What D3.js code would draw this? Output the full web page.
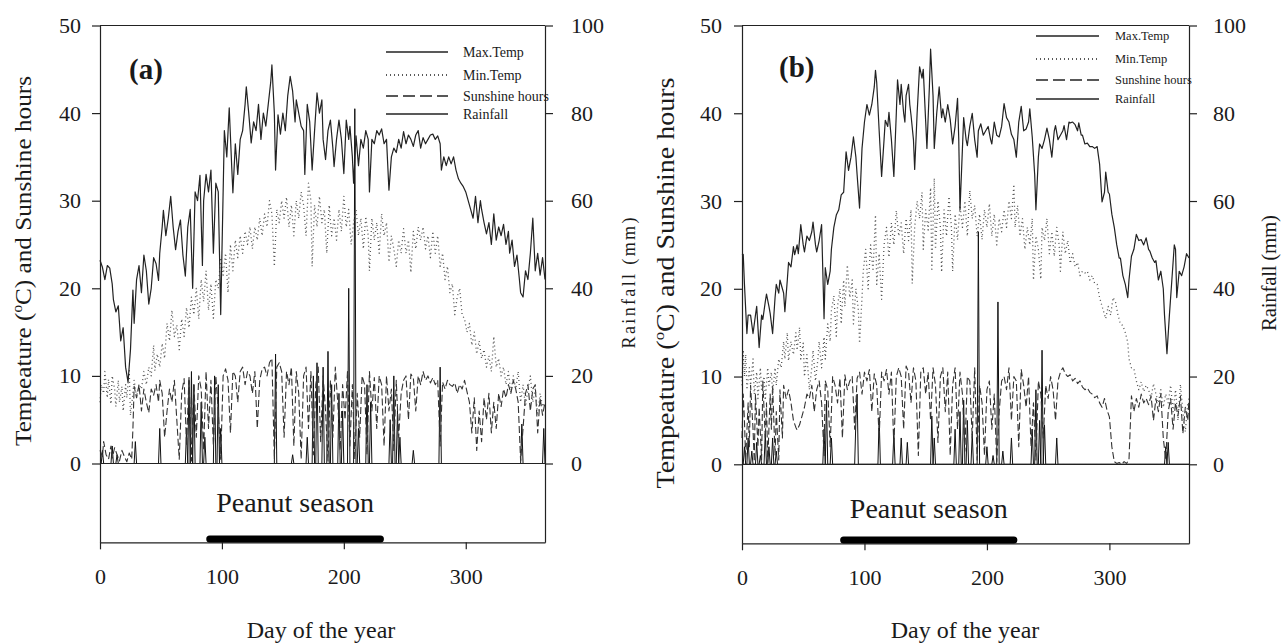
<!DOCTYPE html>
<html><head><meta charset="utf-8">
<script src="https://cdn.jsdelivr.net/npm/d3@7"></script>
<style>
body{margin:0;background:#fff;}
svg{display:block;}
text{font-family:"Liberation Serif","Times New Roman",serif;fill:#1a1a1a;}
</style>
</head><body>
<svg id="c" width="1284" height="643"></svg>
<script>
// ---------------- data ----------------
const dayTicks=[0,100,200,300];
const tempTicks=[0,10,20,30,40,50];
const rainTicks=[0,20,40,60,80,100];
const legendLabels=["Max.Temp","Min.Temp","Sunshine hours","Rainfall"];
const panelLabels=["(a)","(b)"];
const seasonA=[90,230];
const seasonB=[83,222];

const maxTempA=[[0,23.2],[2,22.4],[4,21],[6,22.6],[8,22.3],[10,20.5],[11,18.7],[13,17.3],[15,18],[17,14],[19,15.5],[21,11],[23,9.3],[25,13],[27,19.8],[28,16],[30,21],[32,22.6],[34,19.5],[36,23.8],[38,22],[40,18.2],[42,20],[44,23.5],[46,22.8],[48,20.9],[49,24],[51,27],[52,28.9],[54,26],[56,28],[58,30.5],[60,27],[62,24.4],[64,26.5],[66,27.8],[68,23.8],[70,21.4],[72,27],[74,29],[76,20],[78,31],[80,30],[82,32.9],[84,22.6],[85,30],[87,33],[89,31],[91,33.5],[93,24],[95,32],[97,31],[99,17],[100,24],[102,38],[104,35],[106,40.6],[108,34],[109,30.9],[111,36.5],[113,33],[115,37],[117,38],[119,41],[120,43],[122,40],[124,36.6],[126,39],[128,38],[130,41],[132,37],[134,40],[136,38.5],[138,41],[140,43.5],[141,45.5],[143,40],[144,33.5],[146,39.8],[148,37.6],[150,40],[152,38],[154,42],[156,44.2],[158,42.5],[160,39],[161,41.5],[163,40],[165,38.5],[167,38],[168,33],[170,41],[172,39],[174,33.5],[176,38],[178,42.3],[180,40],[182,41.5],[183,37],[185,34.7],[187,38],[189,39.2],[191,36],[192,33.9],[194,37],[196,39.2],[198,37],[200,33.1],[202,39.2],[204,37],[205,38.5],[207,35],[208,32],[210,37.4],[212,34],[214,37],[216,36],[218,38],[220,37],[221,31],[223,37],[225,36.5],[227,38],[229,37.5],[231,38.2],[233,36.5],[235,37],[237,31.2],[239,35],[241,36],[243,35.5],[245,37],[247,36],[249,37.9],[251,36.5],[253,37.5],[255,37],[257,36.2],[259,37.5],[261,38],[263,36],[265,37.2],[267,36.5],[269,37],[271,37.5],[273,37.6],[275,37],[277,37.4],[279,36.5],[280,33.5],[282,35],[284,34],[286,35],[288,34.2],[290,35],[292,33.5],[294,32.5],[296,32],[298,31.6],[300,31],[302,30],[304,29],[306,28],[308,30.5],[310,27.5],[312,30],[313,29],[315,27.5],[317,26.2],[319,27.5],[321,25],[323,28.5],[325,25.5],[327,27],[329,26],[331,27.3],[333,25],[335,26.5],[336,24],[338,25.5],[340,22.5],[342,23.8],[344,21],[345,19.5],[347,19],[349,22],[351,21],[353,24],[355,28],[357,22],[359,24],[361,21.5],[363,23.5],[365,21]];

const minTempA=[[0,7],[1,9],[3,8],[4,10.5],[6,7.5],[7,9.6],[9,6.8],[10,10],[12,8.5],[13,6.5],[15,9.5],[16,7],[18,8.8],[19,6],[21,9],[22,7.5],[24,10.6],[25,5.5],[27,8],[28,9.5],[30,7.6],[32,9],[34,8.5],[36,10.5],[38,9],[40,11],[42,10],[44,13.5],[45,10.6],[47,12.5],[49,11],[51,13.7],[53,12],[55,16],[57,14],[59,17.5],[61,14.5],[63,15.8],[65,13],[67,16.5],[69,14.5],[71,17.8],[73,15.5],[75,19],[77,17],[79,20],[81,16.5],[83,21],[85,18.5],[87,22],[89,17.5],[91,20.5],[93,16.6],[95,21],[97,20],[99,23.5],[101,21.5],[103,24],[105,19.5],[107,25],[109,22],[111,25.5],[113,23.5],[115,26],[117,24],[119,26.5],[121,25],[123,27],[125,24.5],[127,27],[129,25.5],[131,28],[133,26],[135,28.5],[137,27],[139,30],[141,28.5],[143,22.5],[145,29],[147,27.5],[149,30],[151,28],[153,30.4],[155,27],[157,29.5],[159,26],[161,30],[163,28],[165,31],[167,29.5],[169,26],[171,32],[173,30],[174,22.5],[176,29.5],[178,27],[180,30.5],[182,27.5],[184,29],[186,24],[188,29.5],[190,26],[192,28],[194,25.5],[196,29],[198,26.5],[200,30.5],[202,27],[204,29],[206,25],[208,27.5],[210,29],[212,26],[214,28],[216,24.5],[218,28.2],[220,26],[221,22],[223,28],[225,25.5],[227,27.5],[229,24],[231,28.5],[233,26],[235,27.5],[237,23],[239,26],[241,24.5],[243,22.5],[245,25.5],[247,24],[249,26.8],[251,24],[253,25.5],[255,21.8],[257,26.5],[259,24.5],[261,27],[263,25.5],[265,27],[267,24.5],[269,26],[271,23.5],[273,26.5],[275,24],[277,26],[279,22.5],[281,24],[283,21],[285,22.5],[287,19.5],[289,20.5],[291,17],[293,19],[295,20],[297,17],[299,16.5],[301,15],[303,16],[305,13.5],[307,15],[309,12.5],[311,14],[313,12],[315,13],[317,11],[319,12.3],[321,10.5],[323,14.5],[325,11],[327,12],[329,10],[331,11],[333,9],[335,10.5],[337,8],[339,10],[341,8.5],[343,10.5],[345,7],[347,9],[349,6.5],[351,8.5],[353,10],[355,7],[357,8.5],[359,5.5],[361,8],[363,6.5],[365,7]];

const sunA=[[0,1.5],[2,0.8],[3,2.5],[5,1],[7,0.5],[9,2],[10,0.6],[12,1.8],[14,1],[16,0.3],[18,1.5],[20,0.8],[22,0.2],[24,1.2],[26,0.5],[27,4],[28,8.8],[30,7.5],[32,9],[34,6],[36,8.5],[38,7],[40,5.8],[42,8.5],[44,7.8],[46,9],[48,7],[49,9.5],[51,8],[53,3],[55,6],[57,8.5],[59,7],[61,9.5],[63,5],[65,0.5],[67,8],[69,9.7],[71,2],[73,10],[75,0.3],[77,9],[79,3],[81,10],[83,8.5],[85,1.5],[87,10.5],[89,4],[91,9.5],[93,2],[95,10],[97,6],[99,0.5],[101,10],[103,10.8],[105,9.5],[107,3.5],[109,10.5],[111,10],[113,7],[115,10.5],[117,11],[119,9],[121,10.5],[123,10],[125,8],[127,10.5],[129,4],[131,9.5],[133,10.8],[135,11],[137,10],[139,11.5],[141,12],[143,0.5],[145,11],[147,11.5],[149,10.5],[151,3],[153,10.5],[155,9],[157,11],[159,2],[161,10.5],[163,8],[165,0.5],[167,10],[169,11],[171,4],[173,10.5],[175,1],[177,9],[179,11],[181,2.5],[183,10],[185,6],[187,0.3],[189,9.5],[191,3],[193,11],[195,7],[197,1.5],[199,9],[201,5],[203,10.5],[205,2],[207,9],[209,0.5],[211,8],[213,3],[215,10],[217,9],[219,1],[221,10.5],[223,6],[225,9.8],[227,4],[229,10],[231,9],[233,2],[235,10],[237,6],[239,8.5],[241,1.5],[243,9.5],[245,3],[247,8],[249,9.5],[251,10],[253,5],[255,10.2],[257,9.8],[259,6],[261,10],[263,9],[265,10.5],[267,9.5],[269,10],[271,9.2],[273,9.8],[275,9],[277,9.5],[279,2],[281,9.3],[283,8.5],[285,9.5],[287,9],[289,8.8],[291,9.2],[293,8],[295,9],[297,8.5],[299,9.5],[301,8.2],[303,7],[305,3.5],[307,7.5],[309,1.5],[311,6],[313,2.5],[315,7.5],[317,5],[319,8],[321,3.5],[323,7],[325,4],[327,8],[329,6.5],[331,8.5],[333,7.5],[335,9],[337,8],[339,9.5],[341,8.5],[343,7],[345,0.3],[347,4],[349,8],[351,9],[353,6],[355,8.5],[357,9],[359,3.5],[361,7.5],[363,5.5],[365,7]];

const rainA=[[2,3],[10,4],[14,2],[29,5],[49,8],[71,8],[73,19],[75,21],[77,18],[83,14],[86,6],[94,20],[97,18],[99,8],[144,25],[158,2],[170,6],[175,20],[178,23],[183,22],[187,25.6],[190,18],[196,16],[199,12],[204,40],[209,81],[212,8],[219,18],[222,14],[238,10],[241,20],[244,12],[246,6],[257,3],[279,22],[346,9],[364,8]];

const maxTempB=[[0,24],[1,23.9],[2,20.5],[4,14.9],[5,17],[7,17],[9,14.9],[11,17],[12,18],[14,13.3],[16,17],[17,16.5],[19,18.5],[20,19.4],[22,18],[23,17.2],[25,14.9],[27,19],[28,20.5],[30,19.5],[31,21],[33,20],[34,19.5],[35,17.4],[37,21],[38,23],[40,22.5],[42,24.8],[43,23.9],[45,25],[46,24],[48,27.3],[50,25],[51,24.2],[53,26],[55,25.5],[57,26.5],[58,27.6],[60,25],[61,24.2],[63,25.5],[65,27.3],[67,16.6],[68,22.4],[70,20.5],[72,22],[73,24.5],[75,27],[77,28.4],[79,29],[81,30.7],[83,31],[85,35.6],[87,33.5],[89,35],[91,37.3],[93,35],[94,33],[96,29.2],[98,36],[100,39],[102,41],[104,39.8],[106,41],[108,43],[109,44.9],[110,43.5],[112,38],[114,32.8],[116,37],[117,39.2],[119,38.5],[120,40.1],[122,37],[124,32.8],[126,40],[127,43.8],[129,41],[130,43.3],[132,40],[133,39],[134,42],[136,43.3],[137,41],[138,39.8],[140,37],[141,33.6],[143,40],[145,45.3],[147,44],[148,45],[150,39],[151,36],[153,43],[154,47.3],[156,42],[157,36],[159,40],[161,43],[163,39.5],[164,40.5],[166,39],[168,41],[170,39.3],[172,36.5],[174,38.5],[176,41.7],[177,37],[178,29],[180,36],[181,39.5],[183,37],[184,36.3],[186,38.5],[188,40],[190,37],[192,35],[193,38],[195,38.8],[197,37.5],[199,38],[201,38.5],[203,37],[204,36.5],[206,39],[208,37.5],[210,37.3],[212,38.5],[214,41.1],[216,39.5],[218,39],[220,37.6],[222,37],[224,35],[226,39],[228,40.8],[230,38],[232,38.2],[234,39],[235,40.5],[237,37.3],[239,33],[240,29],[242,35],[243,36.5],[245,36],[247,37],[249,38.3],[251,37],[253,35],[255,38],[256,38.6],[258,37],[260,37.5],[262,38],[263,38.6],[265,37],[267,39],[268,38.9],[270,39],[272,38.7],[274,38],[275,38.9],[277,37.5],[278,37.5],[280,36.5],[282,36.6],[284,36.2],[286,36.2],[288,36],[290,36.2],[292,34.2],[294,29.9],[296,31],[297,33.3],[299,31],[300,30.8],[302,28.5],[304,27],[306,25],[308,23.5],[309,23.5],[311,21.5],[313,20.5],[315,19],[316,21],[318,23.7],[320,24.5],[322,26.2],[324,25.5],[326,25.6],[328,25],[330,25.8],[332,24.5],[333,24.3],[335,23.5],[337,23],[338,23.2],[340,21],[342,22],[344,20],[345,17],[347,12.6],[349,17],[351,21],[353,25],[354,24.5],[355,19],[357,22],[359,21.5],[361,22.5],[363,24],[365,23.5]];

const minTempB=[[0,9],[1,13],[2,10],[3,12.5],[4,8.5],[6,11],[7,9],[9,12],[10,8],[12,10.5],[13,7.5],[15,11],[16,8.5],[18,10],[19,7.3],[21,11],[22,9],[24,10.5],[25,8],[27,11],[28,9],[30,12],[32,11],[34,14],[35,12],[37,15],[38,11.8],[40,14],[42,12.5],[44,15],[45,13],[47,15.6],[48,12],[50,13.8],[51,10],[53,12.5],[55,8.5],[57,11],[58,13],[60,9.5],[62,12],[63,14],[65,11],[67,14.5],[68,12],[70,16],[72,14],[73,17.5],[75,19.2],[77,14.6],[78,18],[80,20],[81,16],[83,21],[84,18],[86,22.7],[88,19],[90,21],[91,16],[93,20],[95,17.6],[96,13.8],[98,19],[99,22],[101,24.5],[103,20],[105,25],[107,22],[109,28.4],[110,20.5],[112,24],[114,18.8],[116,25],[118,27],[120,23.6],[122,27.5],[124,25],[126,28.9],[128,26],[130,27.5],[132,24],[134,28],[136,25.5],[138,29],[139,20.6],[141,27],[143,30],[145,28],[147,31],[148,24.5],[150,29],[152,26.7],[154,31.5],[155,22],[157,32.6],[158,24.5],[160,30],[162,27],[163,21.9],[165,29],[167,26],[169,30.5],[171,27],[172,22],[174,28.5],[176,25.6],[178,29.5],[180,27],[182,30],[184,26],[186,31.2],[188,28],[190,29.5],[192,26],[194,28.5],[196,25.6],[198,29],[200,27],[202,29.7],[204,26],[206,28.5],[208,25],[210,28],[212,26.5],[214,29],[216,27],[218,30],[220,28],[222,31.9],[223,27],[225,29.5],[227,26],[229,28],[231,24.5],[233,27],[235,25],[237,28],[238,21],[240,26],[242,24.5],[244,21.1],[245,27],[247,25.5],[249,28],[251,24],[253,26.5],[255,23.7],[257,27],[259,25],[260,22],[262,26.5],[264,24],[266,25.5],[268,22.9],[270,24],[272,22.5],[274,23],[276,21.5],[278,22],[280,21.8],[282,22],[284,21],[286,21.5],[288,20.6],[290,20.5],[292,19],[294,18],[297,16.6],[299,18],[301,17],[303,19],[305,18.5],[307,17],[309,16],[311,15.8],[313,15],[315,13.9],[316,12],[318,11],[320,10.9],[322,9.5],[324,8.5],[326,9.4],[328,8.3],[330,9],[332,8.5],[334,7.5],[336,9.2],[338,8],[340,7],[342,8.5],[344,6.5],[346,8],[348,7],[350,9],[352,6],[354,8.5],[356,5],[358,9.1],[360,6],[362,3.7],[364,7],[365,6]];

const sunB=[[0,3],[1,8],[2,5],[3,0.5],[5,7],[6,2],[7,9],[9,4],[10,0.3],[11,8],[13,2],[14,6.5],[16,0.5],[17,9.5],[19,3],[20,7],[21,0.2],[23,8],[24,4],[25,9],[27,1],[28,6],[30,0.5],[31,8.5],[33,3],[34,9],[36,7.5],[38,8.5],[40,7],[42,5],[44,4.2],[45,3.9],[47,4.5],[49,5.5],[51,6.5],[53,8],[55,7.5],[57,9],[59,6],[61,8.5],[63,9.5],[65,7],[67,1],[68,9.5],[70,8.5],[72,2],[74,10],[76,9],[78,7],[80,9.8],[82,3],[84,10.2],[86,8.5],[88,9.5],[90,10],[92,4],[94,9.8],[96,10.5],[98,8],[100,10.5],[102,9.5],[104,10.8],[106,6],[108,10.3],[110,9],[112,3],[114,10.5],[116,9.5],[118,10.8],[120,8],[122,10.5],[124,2],[126,10],[128,11],[130,10],[132,4],[134,11.2],[136,10.5],[138,7],[140,11],[142,9.5],[144,1],[146,10.5],[148,11],[150,8],[152,10.5],[154,5],[156,11],[158,9],[160,2.5],[162,10],[164,11],[166,6],[168,10.5],[170,1],[172,9],[174,11],[176,4],[178,10.5],[180,8],[182,1.5],[184,10],[186,9.5],[188,3],[190,11],[192,0.5],[194,9],[196,7],[198,1],[200,8.5],[202,9.5],[204,4],[206,8],[208,0.3],[210,6],[212,9.5],[214,10],[216,8.5],[218,11],[220,5],[222,10],[224,9.5],[226,2],[228,10.8],[230,9],[232,6.5],[234,10],[236,2],[238,7],[240,0.5],[242,9.5],[244,8],[246,3],[248,9],[250,7.5],[252,10],[254,8.5],[256,5],[258,9.5],[260,10.5],[262,11],[264,10.3],[266,10],[268,10.2],[270,9.5],[272,9.8],[274,9.2],[276,9.5],[278,8.8],[280,8.5],[282,8.7],[284,8.2],[286,8],[288,7.6],[290,7.8],[292,7],[294,6.5],[296,7.5],[298,6.2],[300,5.4],[302,2],[304,0.3],[306,0.1],[308,0.2],[310,0],[312,0.3],[314,0.1],[316,0.5],[318,7.8],[320,6],[322,7.5],[324,6.5],[326,8],[328,7],[330,7.5],[332,6.8],[334,7.8],[336,5],[338,7.5],[340,6],[342,8],[344,3],[346,0.5],[348,6],[350,7.5],[352,4],[354,7],[356,5.5],[358,7.8],[360,3.5],[362,6.5],[364,5],[365,7.5]];

const rainB=[[2,4],[5,6],[8,3],[12,5],[15,2],[19,7],[22,4],[25,6],[28,3],[67,8],[69,14.6],[73,6],[93,10],[94,16],[112,10.7],[124,7],[130,6],[135,5],[155,11],[157,6],[174,8],[178,12],[181,14.6],[184,10],[188,7],[193,53],[200,4],[205,2],[209,37],[213,3],[220,6],[237,8],[240,17],[243,10],[245,26],[247,9],[257,6],[346,4],[348,5]];

// ---------------- drawing ----------------
const svg=d3.select("#c");
const FONT='"Liberation Serif","Times New Roman",serif';

const panels=[
 {L:100,R:545,yTop:25.5,y0:463.5,label:panelLabels[0],maxT:maxTempA,minT:minTempA,sun:sunA,rain:rainA,season:seasonA,
  tickFs:22,lPad:11,rPad:18,labX:129,labY:79,
  legX1:386,legX2:448,legTX:463,legY:[52,75,96,114],legFs:14,
  seasonTextY:512,seasonBarY:539,dayX:321,
  yTitle:{x:31,y:261,fs:24,len:370}, rTitle:{x:635,y:283,fs:18,len:131,col:"#555"}},
 {L:742,R:1189,yTop:25.5,y0:464.3,label:panelLabels[1],maxT:maxTempB,minT:minTempB,sun:sunB,rain:rainB,season:seasonB,
  tickFs:22,lPad:12,rPad:16,labX:779,labY:77,
  legX1:1036,legX2:1099,legTX:1115,legY:[36,59,80,99],legFs:12.5,
  seasonTextY:518,seasonBarY:540,dayX:965,
  yTitle:{x:674,y:283,fs:26,len:411}, rTitle:{x:1276,y:273,fs:21,len:116,col:"#222"}}
];

const styles=[
 {stroke:"#222",width:1.2,dash:null},      // max
 {stroke:"#555",width:1.3,dash:"1,3"},     // min dotted
 {stroke:"#333",width:1.1,dash:"7,3"},     // sunshine dashed
 {stroke:"#111",width:1.0,dash:null}       // rainfall
];

panels.forEach(p=>{
  const unit=(p.y0-p.yTop)/50;
  const yBot=p.y0+9*unit;
  const x=d3.scaleLinear().domain([0,365]).range([p.L,p.R]);
  const yT=d3.scaleLinear().domain([-9,50]).range([yBot,p.yTop]);
  const yR=d3.scaleLinear().domain([-18,100]).range([yBot,p.yTop]);
  const g=svg.append("g");

  // rainfall as daily series (zero on dry days)
  const rainMap=new Map(p.rain.map(d=>[d[0],d[1]]));
  const rainDaily=d3.range(0,366).map(d=>[d,rainMap.get(d)||0]);

  const lineT=d3.line().x(d=>x(d[0])).y(d=>yT(d[1]));
  const lineR=d3.line().x(d=>x(d[0])).y(d=>yR(d[1]));

  const addPath=(data,gen,s)=>{
    const pa=g.append("path").datum(data).attr("d",gen).attr("fill","none")
      .attr("stroke",s.stroke).attr("stroke-width",s.width).attr("stroke-linejoin","round");
    if(s.dash) pa.attr("stroke-dasharray",s.dash);
  };
  addPath(rainDaily,lineR,styles[3]);
  addPath(p.sun,lineT,styles[2]);
  addPath(p.minT,lineT,styles[1]);
  addPath(p.maxT,lineT,styles[0]);

  // zero line
  g.append("line").attr("x1",p.L).attr("x2",p.R).attr("y1",yT(0)).attr("y2",yT(0))
   .attr("stroke","#222").attr("stroke-width",1.2);
  // top frame
  g.append("line").attr("x1",p.L).attr("x2",p.R).attr("y1",p.yTop).attr("y2",p.yTop)
   .attr("stroke","#222").attr("stroke-width",1.2);

  // axes
  const ax=(sel,axis)=>{
    sel.call(axis);
    sel.selectAll("path,line").attr("stroke","#222").attr("stroke-width",1.2);
    sel.selectAll("text").attr("font-family",FONT).attr("fill","#1a1a1a");
  };
  ax(g.append("g").attr("transform",`translate(${p.L},0)`),
     d3.axisLeft(yT).tickValues(tempTicks).tickSize(8).tickSizeOuter(0).tickPadding(p.lPad));
  ax(g.append("g").attr("transform",`translate(${p.R},0)`),
     d3.axisRight(yR).tickValues(rainTicks).tickSize(8).tickSizeOuter(0).tickPadding(p.rPad));
  ax(g.append("g").attr("transform",`translate(0,${yBot})`),
     d3.axisBottom(x).tickValues(dayTicks).tickSize(7).tickSizeOuter(0).tickPadding(19));
  g.selectAll(".tick text").attr("font-size",p.tickFs);

  // panel label
  g.append("text").attr("x",p.labX).attr("y",p.labY).attr("font-size",29).attr("font-weight","bold")
   .attr("font-family",FONT).text(p.label);

  // legend
  legendLabels.forEach((lab,i)=>{
    const s=styles[i];
    const yy=p.legY[i];
    const ln=g.append("line").attr("x1",p.legX1).attr("x2",p.legX2).attr("y1",yy).attr("y2",yy)
      .attr("stroke","#222").attr("stroke-width",i===1?1.3:1.3);
    if(s.dash) ln.attr("stroke-dasharray",i===2?"12,5":"1,3");
    g.append("text").attr("x",p.legTX).attr("y",yy+p.legFs*0.33).attr("font-size",p.legFs)
      .attr("font-family",FONT).attr("fill","#333").text(lab);
  });

  // peanut season
  const cx=(x(p.season[0])+x(p.season[1]))/2;
  g.append("text").attr("x",cx).attr("y",p.seasonTextY).attr("text-anchor","middle")
   .attr("font-size",28).attr("font-family",FONT).text("Peanut season");
  g.append("line").attr("x1",x(p.season[0])).attr("x2",x(p.season[1]))
   .attr("y1",p.seasonBarY).attr("y2",p.seasonBarY)
   .attr("stroke","#000").attr("stroke-width",7).attr("stroke-linecap","round");

  // x title
  g.append("text").attr("x",p.dayX).attr("y",638).attr("text-anchor","middle")
   .attr("font-size",24).attr("font-family",FONT).text("Day of the year");

  // y title
  const yt=g.append("text").attr("transform",`translate(${p.yTitle.x},${p.yTitle.y}) rotate(-90)`)
   .attr("text-anchor","middle").attr("font-size",p.yTitle.fs).attr("font-family",FONT)
   .attr("textLength",p.yTitle.len).attr("lengthAdjust","spacingAndGlyphs");
  yt.append("tspan").text("Tempeature (");
  yt.append("tspan").attr("font-size",p.yTitle.fs*0.6).attr("dy",-p.yTitle.fs*0.38).text("o");
  yt.append("tspan").attr("dy",p.yTitle.fs*0.38).text("C) and Sunshine hours");

  // right title
  g.append("text").attr("transform",`translate(${p.rTitle.x},${p.rTitle.y}) rotate(-90)`)
   .attr("text-anchor","middle").attr("font-size",p.rTitle.fs).attr("font-family",FONT)
   .attr("fill",p.rTitle.col).attr("textLength",p.rTitle.len).attr("lengthAdjust","spacing")
   .text("Rainfall (mm)");
});
</script>
</body></html>
